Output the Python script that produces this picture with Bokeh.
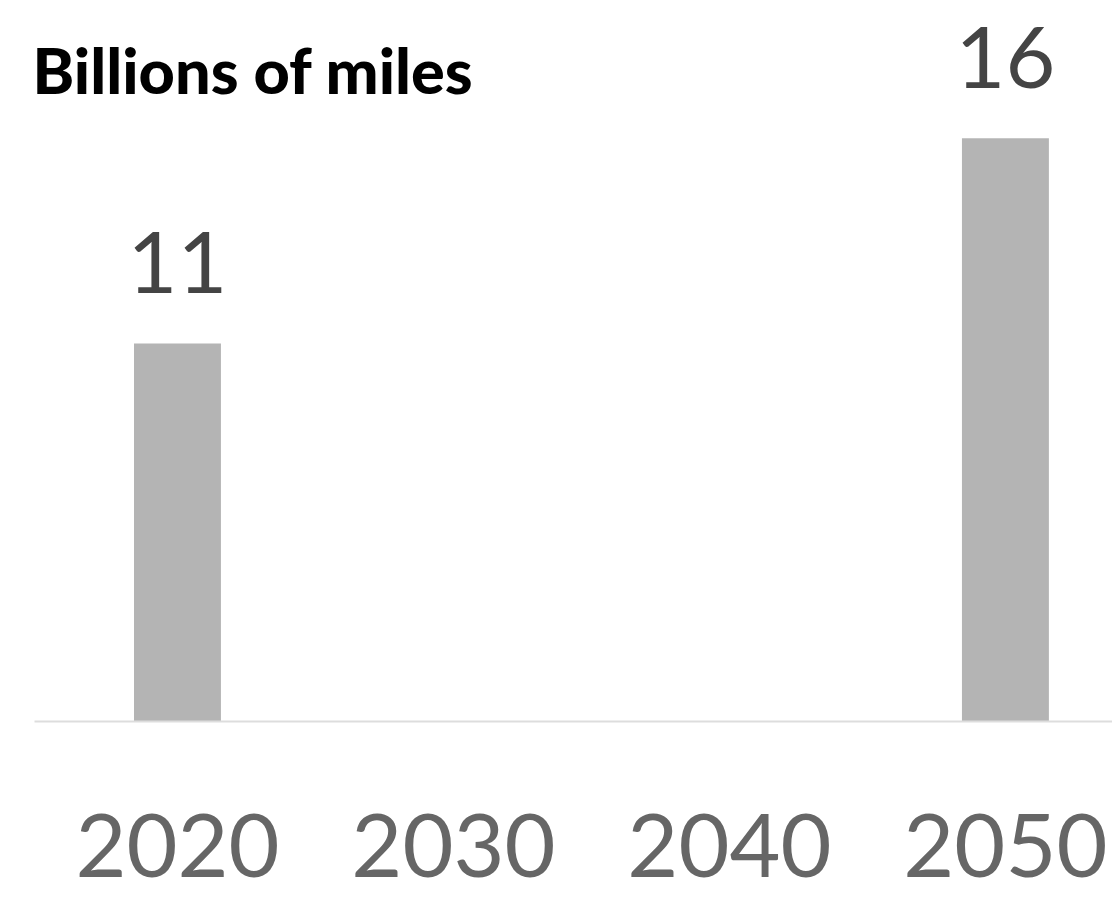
from bokeh.plotting import figure
from bokeh.models import Range1d, FixedTicker, Label, ColumnDataSource
from bokeh.core.properties import value
from bokeh.embed import file_html
from bokeh.resources import INLINE

# ---- data ----
years = [2020, 2050]
miles = [10.5, 16.2]          # billions of miles (bar heights)
labels = ["11", "16"]         # printed value labels
tick_years = [2020, 2030, 2040, 2050]
title_text = "Billions of miles"

src = ColumnDataSource(dict(x=years, top=miles, label=labels))

p = figure(width=1112, height=899, output_backend="svg", toolbar_location=None,
           x_range=Range1d(2014.82, 2053.88), y_range=Range1d(0, 20.03),
           min_border_left=34, min_border_right=0, min_border_top=0,
           min_border_bottom=178)
p.outline_line_color = None
p.xgrid.visible = False
p.ygrid.visible = False
p.yaxis.visible = False
p.background_fill_color = "white"
p.border_fill_color = "white"

p.vbar(x="x", top="top", bottom=0, width=3.15, source=src,
       fill_color="#b4b4b4", line_color=None)

p.text(x="x", y="top", text="label", source=src,
       text_font=value("Lato"), text_font_size="86px",
       text_color="#444444", text_align="center", text_baseline="alphabetic",
       y_offset=-81)

ax = p.xaxis[0]
ax.ticker = FixedTicker(ticks=tick_years)
ax.axis_line_color = "#dddddd"
ax.axis_line_width = 2
ax.major_tick_line_color = None
ax.minor_tick_line_color = None
ax.major_label_text_font = "Lato"
ax.major_label_text_font_size = "88px"
ax.major_label_text_color = "#666666"
ax.major_label_standoff = 86

title = Label(x=2014.82, y=18.12, text=title_text, x_offset=-2,
              text_font="Lato Black", text_font_style="bold", text_font_size="63px",
              text_color="black", text_baseline="alphabetic", text_align="left")
p.add_layout(title)

open("out.html", "w").write(file_html(p, INLINE))
